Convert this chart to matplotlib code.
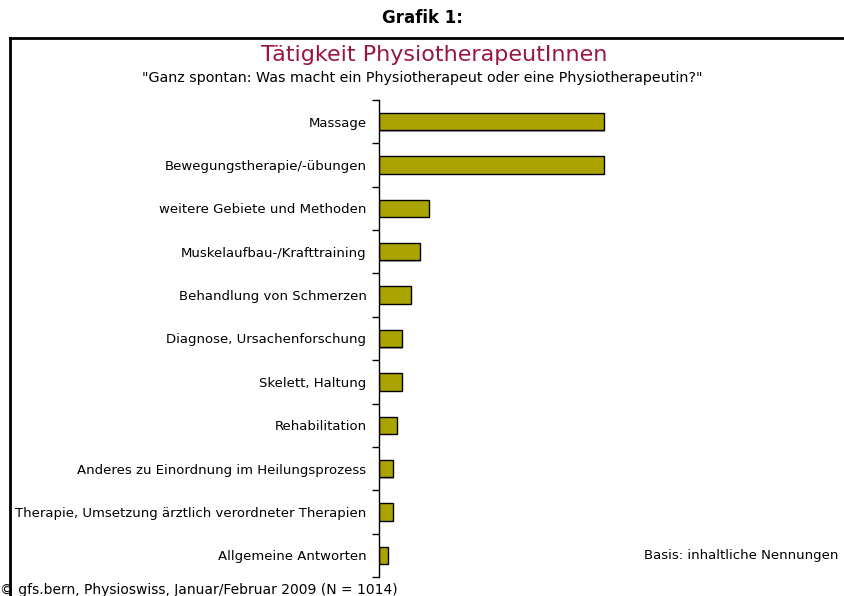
import matplotlib.pyplot as plt
import matplotlib.patheffects as pe
from matplotlib.lines import Line2D
import numpy as np

categories = [
    "Massage",
    "Bewegungstherapie/-übungen",
    "weitere Gebiete und Methoden",
    "Muskelaufbau-/Krafttraining",
    "Behandlung von Schmerzen",
    "Diagnose, Ursachenforschung",
    "Skelett, Haltung",
    "Rehabilitation",
    "Anderes zu Einordnung im Heilungsprozess",
    "Therapie, Umsetzung ärztlich verordneter Therapien",
    "Allgemeine Antworten",
]
values = [50, 50, 11, 9, 7, 5, 5, 4, 3, 3, 2]

fig = plt.figure(figsize=(8.44, 5.96), dpi=100)
ax = fig.add_axes([379 / 844, 19 / 596, 450 / 844, 477 / 596])

y = np.arange(len(categories))
ax.barh(y, values, height=0.4, color="#ABA400", edgecolor="black", linewidth=1,
        path_effects=[pe.SimplePatchShadow(offset=(1, -1), shadow_rgbFace="#888888", alpha=0.7), pe.Normal()])

ax.set_ylim(len(categories) - 0.5, -0.5)
ax.set_xlim(0, 100)
ax.set_yticks(y)
ax.set_yticklabels(categories, fontsize=9.5)
ax.set_yticks(np.arange(len(categories) + 1) - 0.5, minor=True)
ax.tick_params(axis="y", which="major", length=0, pad=9)
ax.tick_params(axis="y", which="minor", length=5, width=1)
ax.set_xticks([])
for s in ["top", "right", "bottom"]:
    ax.spines[s].set_visible(False)
ax.spines["left"].set_linewidth(1)

fig.text(0.5, 1 - 18 / 596, "Grafik 1:", ha="center", va="center", fontsize=12, fontweight="bold")
fig.text(434 / 844, 1 - 55 / 596, "Tätigkeit PhysiotherapeutInnen", ha="center", va="center",
         fontsize=16, color="#99163F")
fig.text(422 / 844, 1 - 78 / 596,
         "\"Ganz spontan: Was macht ein Physiotherapeut oder eine Physiotherapeutin?\"",
         ha="center", va="center", fontsize=10.3)
fig.text(838 / 844, 1 - 555 / 596, "Basis: inhaltliche Nennungen", ha="right", va="center", fontsize=9.5)
fig.text(0.0, 1 - 590 / 596, "© gfs.bern, Physioswiss, Januar/Februar 2009 (N = 1014)",
         ha="left", va="center", fontsize=10)

fig.add_artist(Line2D([10 / 844, 1], [1 - 38 / 596, 1 - 38 / 596], color="black", lw=2))
fig.add_artist(Line2D([10 / 844, 10 / 844], [0, 1 - 38 / 596], color="black", lw=2))

fig.savefig("out.png", dpi=100)
